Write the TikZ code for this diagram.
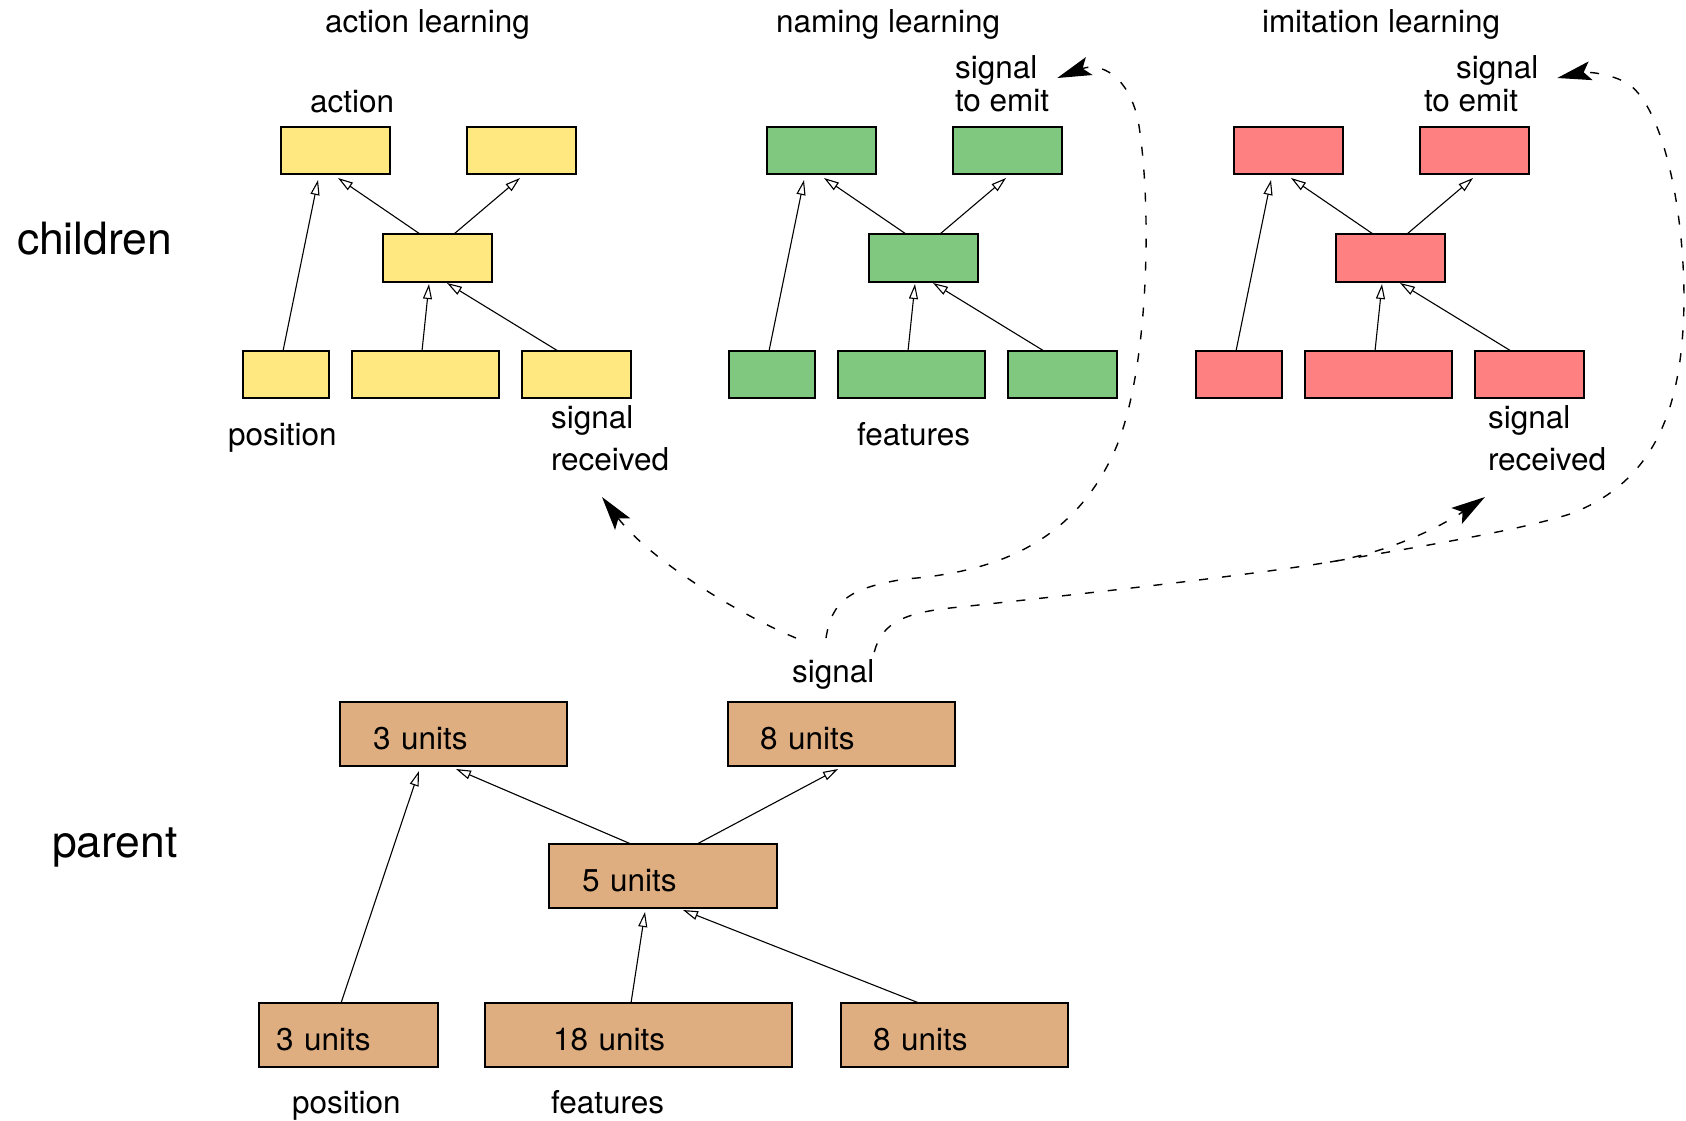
\documentclass[tikz,border=0pt]{standalone}
\usepackage{fontspec}
\setmainfont{TeX Gyre Heros}
\usetikzlibrary{arrows.meta}

\definecolor{actfill}{RGB}{255,232,128}
\definecolor{namfill}{RGB}{128,200,128}
\definecolor{imifill}{RGB}{255,128,128}
\definecolor{parfill}{RGB}{222,174,128}

\newcommand\lblsize{\fontsize{31.5}{36}\selectfont}
\newcommand\bigsize{\fontsize{44.5}{50}\selectfont}

\tikzset{
  lbl/.style={anchor=base west, inner sep=0pt, outer sep=0pt, font=\lblsize},
  biglbl/.style={anchor=base west, inner sep=0pt, outer sep=0pt, font=\bigsize},
  netbox/.style={draw=black, line width=1.7pt, anchor=north west, inner sep=0pt, outer sep=0pt},
  childbox/.style 2 args={netbox, fill=#1, minimum width=#2, minimum height=47pt},
  unitbox/.style 2 args={netbox, fill=parfill, font=\lblsize, align=left,
    inner xsep=#2, text width=#1, minimum height=64pt, text height=30pt, text depth=0pt},
  feed/.style={line width=1.1pt, -{Triangle[open, length=15pt, width=9pt]}},
  msg/.style={line width=1.4pt, dash pattern=on 9pt off 14pt,
    -{Stealth[length=34pt, width=19pt, inset=7pt]}},
}

% one learning network of a child: two outputs, hidden layer, three inputs
\newcommand\netgroup[3]{%
  \begin{scope}[xshift=#2pt]
    \node[childbox={#3}{109pt}] (#1a) at (281,127) {};
    \node[childbox={#3}{109pt}] (#1b) at (467,127) {};
    \node[childbox={#3}{109pt}, minimum height=48pt] (#1m) at (383,234) {};
    \node[childbox={#3}{86pt}] (#1p) at (243,351) {};
    \node[childbox={#3}{147pt}] (#1f) at (352,351) {};
    \node[childbox={#3}{109pt}] (#1s) at (522,351) {};
  \end{scope}
  \draw[feed] ([xshift=40pt]#1p.north west) -- ([xshift=37pt,yshift=-6pt]#1a.south west);
  \draw[feed] ([xshift=37pt]#1m.north west) -- ([xshift=57pt,yshift=-4pt]#1a.south west);
  \draw[feed] ([xshift=71pt]#1m.north west) -- ([xshift=53pt,yshift=-4pt]#1b.south west);
  \draw[feed] ([xshift=70pt]#1f.north west) -- ([xshift=46pt,yshift=-2pt]#1m.south west);
  \draw[feed] ([xshift=36pt]#1s.north west) -- ([xshift=64pt,yshift=-1pt]#1m.south west);
}

\begin{document}
\begin{tikzpicture}[x=1pt, y=-1pt]
  \useasboundingbox (0,0) rectangle (1686,1120);

  % row labels
  \node[biglbl] (children) at (17,254) {children};
  \node[biglbl] (parent) at (52,857) {parent};

  % titles
  \node[lbl] (tact) at (325,32) {action learning};
  \node[lbl] (tnam) at (776,32) {naming learning};
  \node[lbl] (timi) at (1262,32) {imitation learning};

  % the three child networks
  \netgroup{y}{0}{actfill}
  \netgroup{g}{486}{namfill}
  \netgroup{r}{953}{imifill}

  % labels of the child networks
  \node[lbl] (yact) at (310,112) {action};
  \node[lbl] (ypos) at (228,445) {position};
  \node[lbl] (ysig) at (551,428) {signal};
  \node[lbl] (yrecv) at (551,470) {received};
  \node[lbl] (gsig) at (955,78) {signal};
  \node[lbl] (gemit) at (955,111) {to emit};
  \node[lbl] (gfeat) at (857,445) {features};
  \node[lbl] (rsig) at (1456,78) {signal};
  \node[lbl] (remit) at (1424,111) {to emit};
  \node[lbl] (rsigb) at (1488,428) {signal};
  \node[lbl] (rrecv) at (1488,470) {received};

  % parent network
  \node[unitbox={161pt}{33pt}] (pa) at (340,702) {3 units};
  \node[unitbox={163pt}{32pt}] (pc) at (728,702) {8 units};
  \node[unitbox={162pt}{33pt}] (pm) at (549,844) {5 units};
  \node[unitbox={145pt}{17pt}] (pp) at (259,1003) {3 units};
  \node[unitbox={171pt}{68pt}] (pf) at (485,1003) {18 units};
  \node[unitbox={163pt}{32pt}] (ps) at (841,1003) {8 units};

  \draw[feed] ([xshift=82pt]pp.north west) -- ([xshift=79pt,yshift=-5pt]pa.south west);
  \draw[feed] ([xshift=82pt]pm.north west) -- ([xshift=116pt,yshift=-3pt]pa.south west);
  \draw[feed] ([xshift=148pt]pm.north west) -- ([xshift=110pt,yshift=-3pt]pc.south west);
  \draw[feed] ([xshift=146pt]pf.north west) -- ([xshift=96pt,yshift=-4pt]pm.south west);
  \draw[feed] ([xshift=78pt]ps.north west) -- ([xshift=134pt,yshift=-2pt]pm.south west);

  \node[lbl] (sig) at (792,682) {signal};
  \node[lbl] (ppos) at (292,1113) {position};
  \node[lbl] (pfeat) at (551,1113) {features};

  % the parent's signal reaches the three children
  \coordinate (split) at (1330,562);
  \draw[msg] ([xshift=4pt,yshift=21pt]sig.north west)
    .. controls (740,615) and (650,560) .. ([xshift=51pt,yshift=-27pt]yrecv.base west);
  \draw[msg] ([xshift=34pt,yshift=21pt]sig.north west)
    .. controls (832,600) and (850,588) .. (905,579)
    .. controls (1000,572) and (1075,540) .. (1115,450)
    .. controls (1150,370) and (1152,200) .. (1138,120)
    .. controls (1128,75) and (1100,62) .. ([xshift=20pt]gsig.base east);
  \draw[msg] ([yshift=7pt]sig.north east)
    .. controls (882,622) and (905,612) .. (960,607)
    .. controls (1100,592) and (1250,575) .. (split)
    .. controls (1430,545) and (1520,530) .. (1570,514)
    .. controls (1660,480) and (1683,400) .. (1684,300)
    .. controls (1684,200) and (1660,100) .. (1625,82)
    .. controls (1605,72) and (1585,72) .. ([xshift=19pt]rsig.base east);
  \draw[msg] (split)
    .. controls (1390,552) and (1440,527) .. ([xshift=-3pt,yshift=-27pt]rrecv.base west);
\end{tikzpicture}
\end{document}
